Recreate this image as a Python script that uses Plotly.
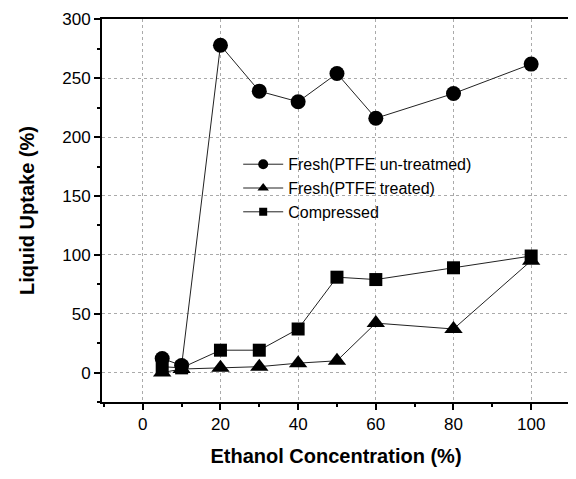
import plotly.graph_objects as go

ethanol = [5, 10, 20, 30, 40, 50, 60, 80, 100]
fresh_untreated = [12, 6, 278, 239, 230, 254, 216, 237, 262]
fresh_treated = [0, 3, 4, 5, 8, 10, 42, 37, 95]
compressed = [5, 4, 19, 19, 37, 81, 79, 89, 99]

series = [
    ("Fresh(PTFE un-treatmed)", fresh_untreated, "circle", 15, 10),
    ("Fresh(PTFE treated)", fresh_treated, "triangle-up", 16, 10),
    ("Compressed", compressed, "square", 13, 8),
]

fig = go.Figure()
for name, vals, sym, sz, lsz in series:
    fig.add_trace(go.Scatter(
        x=ethanol, y=vals, name=name, mode="lines+markers", showlegend=False,
        line=dict(color="#222", width=1),
        marker=dict(symbol=sym, size=sz, color="black"),
    ))
    # legend-only entry with small symbol, as in the original
    fig.add_trace(go.Scatter(
        x=[None], y=[None], name=name, mode="lines+markers",
        line=dict(color="#222", width=1),
        marker=dict(symbol=sym, size=lsz, color="black"),
    ))

axis_common = dict(
    showline=True, linecolor="black", linewidth=2, mirror=True,
    ticks="outside", ticklen=6, tickwidth=1.5, tickcolor="black",
    showgrid=True, gridcolor="#aaa", gridwidth=1, griddash="dot",
    zeroline=False, ticklabeloverflow="allow", automargin=False,
    tickfont=dict(family="Liberation Sans, Arial", size=17, color="black"),
)

fig.update_xaxes(
    range=[-10.5, 110], tickvals=[0, 20, 40, 60, 80, 100],
    minor=dict(ticks="outside", ticklen=3, tickcolor="black", dtick=10, tick0=0, showgrid=False),
    title=dict(text="<b>Ethanol Concentration (%)</b>", standoff=16,
               font=dict(family="Liberation Sans, Arial", size=20, color="black")),
    **axis_common,
)
fig.update_yaxes(
    range=[-25, 300.3], tickvals=[0, 50, 100, 150, 200, 250, 300],
    minor=dict(ticks="outside", ticklen=3, tickcolor="black", dtick=25, tick0=0, showgrid=False),
    title=dict(text="<b>Liquid Uptake (%)</b>", standoff=22,
               font=dict(family="Liberation Sans, Arial", size=20, color="black")),
    **axis_common,
)

fig.update_layout(
    width=576, height=479,
    margin=dict(l=94, r=14, t=11, b=85),
    paper_bgcolor="white", plot_bgcolor="white",
    showlegend=True,
    legend=dict(x=0.291, y=0.665, xanchor="left", yanchor="top",
                bgcolor="rgba(255,255,255,0)", tracegroupgap=0,
                font=dict(family="Liberation Sans, Arial", size=16, color="black"),
                itemwidth=40),
)

fig.write_html("out.html")
